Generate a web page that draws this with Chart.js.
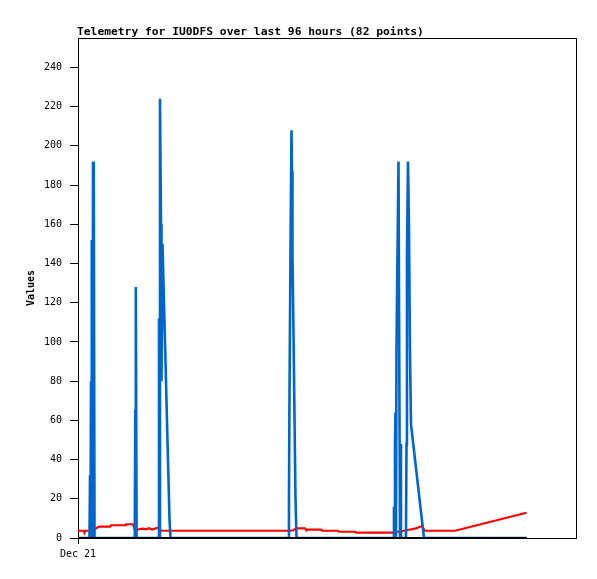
<!DOCTYPE html>
<html><head><meta charset="utf-8">
<script src="https://cdn.jsdelivr.net/npm/chart.js@4.4.1/dist/chart.umd.min.js"></script>
<style>html,body{margin:0;padding:0;background:#fff;}canvas{display:block;}</style>
</head><body>
<canvas id="c" width="597" height="579"></canvas>
<script>
const chartTitle = 'Telemetry for IU0DFS over last 96 hours (82 points)';
const yAxisTitle = 'Values';
const xTickValues = [0];
const xTickLabels = ['Dec 21'];
const yTickStep = 20;

// hours since start
const blueHours = [0, 2.46, 2.57, 2.67, 2.78, 2.89, 2.99, 3.10, 3.21, 3.32, 3.42, 3.53,
  12.14, 12.25, 12.36, 12.53,
  17.21, 17.32, 17.43, 17.53, 17.75, 17.85, 18.07, 18.28, 18.49, 18.71, 18.92, 19.13, 19.35, 19.56, 19.78,
  45.01, 45.11, 45.22, 45.43, 45.65, 45.76, 45.86, 46.08, 46.29, 46.50, 46.72,
  67.46, 67.56, 67.67, 67.78, 67.88, 67.99, 68.10, 68.31, 68.53, 68.85, 68.95, 69.06, 70.13, 70.24, 70.34, 70.56, 70.77, 70.98, 71.20, 73.98,
  96.0];
const blueValues = [0, 0, 32, 0, 80, 0, 152, 0, 192, 60, 192, 0,
  0, 65, 128, 0,
  0, 112, 0, 224, 160, 80, 150, 130, 110, 90, 70, 50, 30, 10, 0,
  0, 20, 72, 145, 208, 187, 145, 104, 63, 21, 0,
  0, 16, 0, 48, 64, 0, 96, 144, 192, 0, 48, 0, 0, 48, 144, 192, 160, 96, 58, 0,
  0];

const redHours = [0, 1.28, 1.39, 1.60, 2.99, 3.63, 4.28, 4.70, 6.84, 7.06, 10.05, 10.26, 11.76, 12.08, 12.61,
  13.26, 13.90, 14.54, 15.18, 15.82, 16.46, 17.10, 17.75, 44.90, 45.97, 46.61, 48.54, 48.75, 51.96, 52.17,
  55.59, 55.80, 59.23, 59.44, 67.35, 68.42, 70.56, 72.27, 73.55, 74.19, 80.61, 95.90];
const redValues = [3.7, 3.7, 2.7, 3.7, 3.7, 4.5, 5.6, 5.8, 5.8, 6.5, 6.5, 7.0, 7.0, 4.8, 4.2,
  4.6, 4.8, 4.4, 5.0, 4.3, 4.8, 5.2, 3.7, 3.7, 3.9, 4.9, 4.9, 4.3, 4.3, 3.7,
  3.7, 3.2, 3.2, 2.7, 2.7, 3.2, 4.1, 4.9, 6.1, 3.7, 3.7, 12.9];

const blackHours = [0, 95.9];
const blackValues = [0, 0];

const xMin = 0, xMax = 106.7;
const yMin = 0, yMax = 255;

function pts(xs, ys) { return xs.map((x, i) => ({x: x, y: ys[i]})); }

const framePlugin = {
  id: 'frame',
  beforeDatasetsDraw(chart) {
    const {ctx, chartArea: a} = chart;
    ctx.save();
    ctx.strokeStyle = '#000';
    ctx.lineWidth = 1;
    ctx.strokeRect(Math.round(a.left) + 0.5, Math.round(a.top) + 0.5,
      Math.round(a.right - a.left) - 1, Math.round(a.bottom - a.top));
    ctx.restore();
  },
  afterDraw(chart) {
    const ctx = chart.ctx;
    ctx.save();
    ctx.fillStyle = '#000';
    ctx.font = 'bold 11.3px "DejaVu Sans Mono", monospace';
    ctx.textBaseline = 'alphabetic';
    ctx.textAlign = 'left';
    ctx.fillText(chartTitle, 77, 35);
    ctx.restore();
  }
};

new Chart(document.getElementById('c'), {
  type: 'line',
  data: {
    datasets: [
      {data: pts(blackHours, blackValues), borderColor: '#000000', borderWidth: 2},
      {data: pts(blueHours, blueValues), borderColor: '#0066cc', borderWidth: 2.6},
      {data: pts(redHours, redValues), borderColor: '#ff0000', borderWidth: 2.2}
    ]
  },
  options: {
    responsive: false,
    animation: false,
    events: [],
    layout: {padding: {top: 38, right: 20, left: 0, bottom: 0}},
    elements: {point: {radius: 0}, line: {tension: 0, borderCapStyle: 'butt', borderJoinStyle: 'miter'}},
    plugins: {legend: {display: false}, tooltip: {enabled: false}, title: {display: false}},
    scales: {
      x: {
        type: 'linear', min: xMin, max: xMax,
        border: {display: false},
        grid: {drawOnChartArea: false, drawTicks: true, tickLength: 6, color: '#000'},
        afterBuildTicks(scale) { scale.ticks = xTickValues.map(v => ({value: v})); },
        afterFit(scale) { scale.height = 41; },
        ticks: {
          autoSkip: false, maxRotation: 0, padding: 4, color: '#000',
          font: {family: '"DejaVu Sans Mono", monospace', size: 10},
          callback(v) { const i = xTickValues.indexOf(v); return i >= 0 ? xTickLabels[i] : ''; }
        }
      },
      y: {
        type: 'linear', min: yMin, max: yMax,
        border: {display: false},
        grid: {drawOnChartArea: false, drawTicks: true, tickLength: 8, color: '#000'},
        afterFit(scale) { scale.width = 78; },
        title: {display: true, text: yAxisTitle, color: '#000', padding: {top: 25, bottom: 0},
          font: {family: '"DejaVu Sans Mono", monospace', size: 10, weight: 'bold'}},
        ticks: {
          stepSize: yTickStep, includeBounds: false, padding: 8, color: '#000',
          font: {family: '"DejaVu Sans Mono", monospace', size: 10}
        }
      }
    }
  },
  plugins: [framePlugin]
});
</script>
</body></html>
